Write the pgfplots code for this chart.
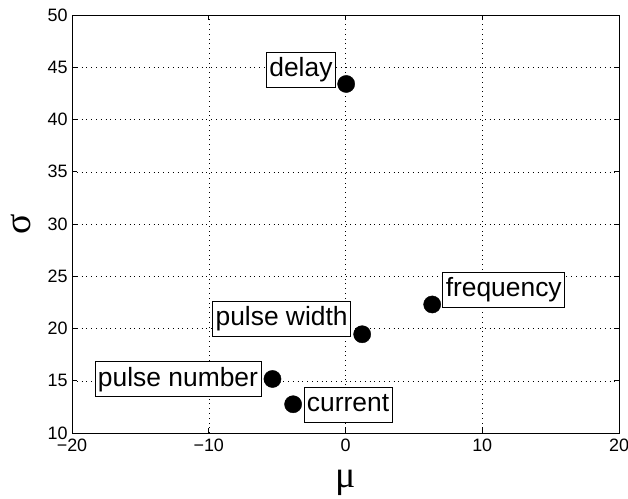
\documentclass[border=0pt]{standalone}
\usepackage{pgfplots}
\pgfplotsset{compat=1.18}
\usepackage{fontspec}
\setmainfont{Liberation Sans}
\newfontfamily\greekfont{Liberation Serif}
\begin{document}
\begin{tikzpicture}
\begin{axis}[
  at={(0,0)}, anchor=south west,
  width=547bp, height=418bp, scale only axis,
  xmin=-20, xmax=20, ymin=10, ymax=50,
  xtick={-20,-10,0,10,20},
  xticklabels={−20,−10,0,10,20},
  ytick={10,15,20,25,30,35,40,45,50},
  yticklabels={10,15,20,25,30,35,40,45,50},
  tick align=inside,
  major tick length=5bp,
  grid=major,
  major grid style={black, line width=0.5bp, dash pattern=on 0.8bp off 4bp},
  axis line style={black, line width=0.8bp},
  tick style={black, line width=0.8bp},
  ticklabel style={font=\fontsize{18}{20}\selectfont},
  xticklabel style={yshift=-2bp},
  yticklabel style={xshift=-1bp},
  xlabel={\greekfont\fontsize{38}{40}\selectfont μ},
  ylabel={\greekfont\fontsize{38}{40}\selectfont σ},
  xlabel style={at={(axis description cs:0.5,0)}, anchor=north, yshift=-34bp},
  ylabel style={at={(axis description cs:0,0.5)}, anchor=south, rotate=0, yshift=40bp, inner sep=1bp},
  clip=false,
]
\addplot[only marks, mark=*, mark size=8.6bp, black, mark options={fill=black}]
  coordinates {(0.05,43.4) (6.34,22.3) (1.22,19.45) (-5.34,15.17) (-3.83,12.75)};
\begin{scope}[every node/.style={draw=black, fill=white, line width=0.6bp,
  font=\fontsize{26.5}{28}\selectfont, inner xsep=3bp, inner ysep=0pt,
  minimum height=35bp, text height=19bp, text depth=5.5bp}]
\node[anchor=east] at (axis cs:-0.71,44.74) {delay};
\node[anchor=west] at (axis cs:7.09,23.75) {frequency};
\node[anchor=east] at (axis cs:0.40,20.9) {pulse width};
\node[anchor=east] at (axis cs:-6.16,15.14) {pulse number};
\node[anchor=west] at (axis cs:-3.06,12.71) {current};
\end{scope}
\end{axis}
\pgfresetboundingbox
\useasboundingbox (-72bp,-66bp) rectangle (556bp,433bp);
\end{tikzpicture}
\end{document}
